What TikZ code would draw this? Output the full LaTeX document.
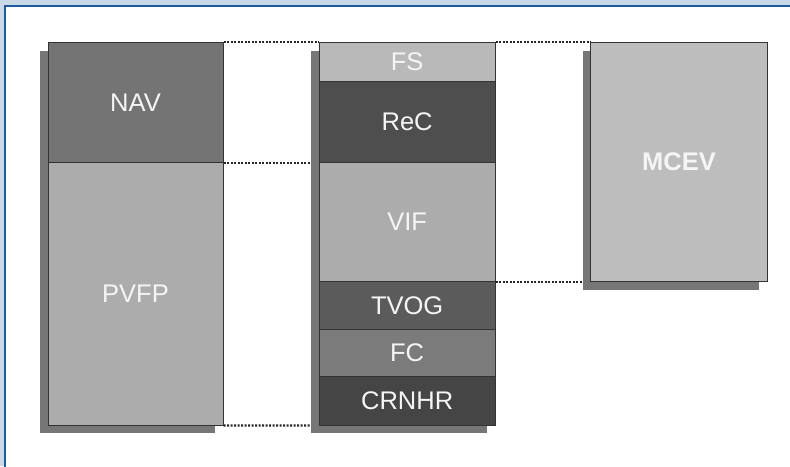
\documentclass[tikz,border=0pt]{standalone}
\usepackage{fontspec}
\setmainfont{Liberation Sans}
\usetikzlibrary{shadows}
\definecolor{frameblue}{HTML}{C9D9E7}
\definecolor{frameline}{HTML}{1F5A9C}
\definecolor{bordc}{HTML}{333333}
\definecolor{shadc}{HTML}{767676}
\definecolor{cNAV}{HTML}{747474}
\definecolor{cPVFP}{HTML}{ACACAC}
\definecolor{cFS}{HTML}{B9B9B9}
\definecolor{cReC}{HTML}{4E4E4E}
\definecolor{cVIF}{HTML}{ACACAC}
\definecolor{cTVOG}{HTML}{5B5B5B}
\definecolor{cFC}{HTML}{7B7B7B}
\definecolor{cCRNHR}{HTML}{454545}
\definecolor{cMCEV}{HTML}{BDBDBD}
\pgfdeclarelayer{framelayer}
\pgfdeclarelayer{bglayer}
\pgfsetlayers{framelayer,bglayer,main}
\begin{document}
\begin{tikzpicture}[x=1pt,y=-1pt,
  blk/.style={draw=bordc, line width=1pt, inner sep=0pt, text=white!96!black,
    font=\fontsize{25.5}{30}\selectfont,
    drop shadow={shadow xshift=-8pt, shadow yshift=-8pt, fill=shadc, opacity=1}},
  dotline/.style={line width=2.2pt, dash pattern=on 2pt off 1.5pt, black!85}]
\useasboundingbox (0,0) rectangle (790,466);
\begin{pgfonlayer}{framelayer}
\fill[frameblue] (0,0) rectangle (790,466);
\fill[white] (5,6.5) rectangle (795,470);
\draw[frameline, line width=1.6pt] (4.8,470) -- (4.8,6) -- (795,6);
\end{pgfonlayer}
% left column
\node[blk, fill=cNAV, minimum width=175pt, minimum height=119.6pt] (nav) at (135.5,102.5) {NAV};
\node[blk, fill=cPVFP, minimum width=175pt, minimum height=262.7pt] (pvfp) at (135.5,293.65) {PVFP};
% middle column
\node[blk, fill=cFS, minimum width=175.7pt, minimum height=39pt] (fs) at (407.15,62.2) {FS};
\node[blk, fill=cReC, minimum width=175.7pt, minimum height=80.6pt] (rec) at (407.15,122) {ReC};
\node[blk, fill=cVIF, minimum width=175.7pt, minimum height=119.4pt] (vif) at (407.15,222) {VIF};
\node[blk, fill=cTVOG, minimum width=175.7pt, minimum height=47.3pt] (tvog) at (407.15,305.35) {TVOG};
\node[blk, fill=cFC, minimum width=175.7pt, minimum height=47.7pt] (fc) at (407.15,352.85) {FC};
\node[blk, fill=cCRNHR, minimum width=175.7pt, minimum height=48.3pt] (crnhr) at (407.15,400.85) {CRNHR};
% right column
\node[blk, fill=cMCEV, minimum width=176.6pt, minimum height=239pt, font=\fontsize{25.5}{30}\selectfont\bfseries] (mcev) at (679,162.2) {MCEV};
% dotted connectors
\begin{pgfonlayer}{bglayer}
\draw[dotline] (nav.north east) -- (fs.north west);
\draw[dotline] (nav.south east) -- (rec.south west);
\draw[dotline] (pvfp.south east) -- (crnhr.south west);
\draw[dotline] (fs.north east) -- (mcev.north west);
\draw[dotline] (vif.south east) -- (mcev.south west);
\end{pgfonlayer}
\end{tikzpicture}
\end{document}
